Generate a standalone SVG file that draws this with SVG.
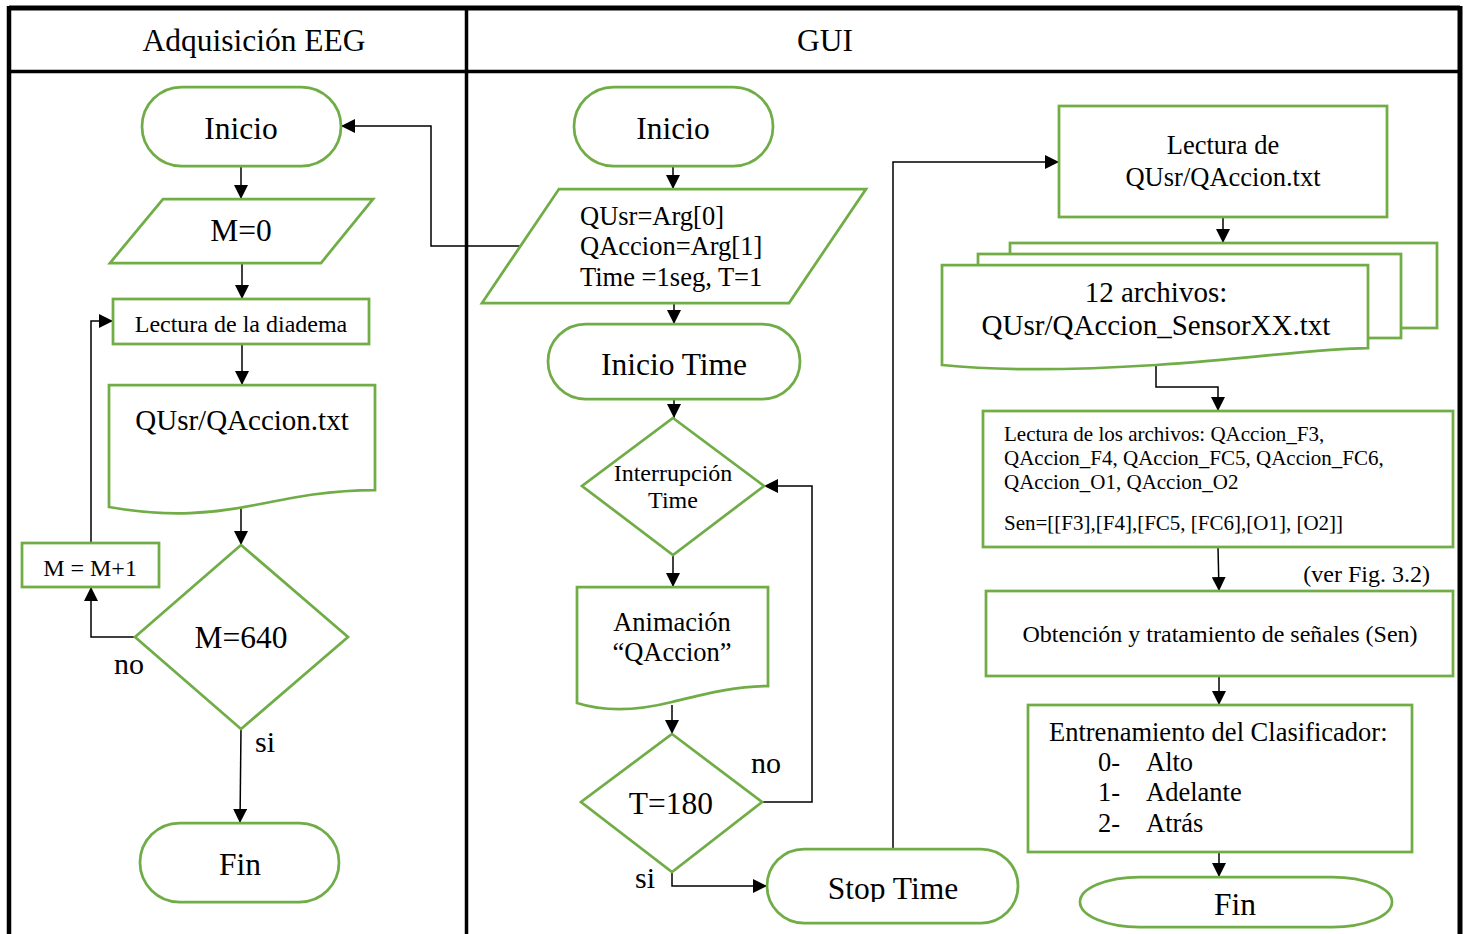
<svg xmlns="http://www.w3.org/2000/svg" width="1469" height="934" viewBox="0 0 1469 934">
  <defs>
    <style>
      .shape{fill:#fff;stroke:#70AD47;stroke-width:2.75}
      .conn{fill:none;stroke:#000;stroke-width:1.5}
      .frame{fill:none;stroke:#000}
      text{font-family:"Liberation Serif","Times New Roman",serif;fill:#000}
      .xl{font-size:31.5px}
      .lg{font-size:29px}
      .md{font-size:26.5px}
      .sm{font-size:24px}
      .xs{font-size:21px}
      .lbl{font-size:30px}
    </style>
    <marker id="arr" viewBox="0 0 14 14" refX="14" refY="7" markerWidth="14" markerHeight="14" markerUnits="userSpaceOnUse" orient="auto">
      <path d="M0,0 L14,7 L0,14 Z" fill="#000"/>
    </marker>
    <clipPath id="stopClip">
      <rect x="767" y="849" width="251" height="53"/>
    </clipPath>
  </defs>

  <rect width="1469" height="934" fill="#fff"/>

  <!-- swimlane frame -->
  <g id="frame">
    <line class="frame" x1="9" y1="8" x2="1460" y2="8" stroke-width="5"/>
    <line class="frame" x1="9" y1="6" x2="9" y2="934" stroke-width="4.5"/>
    <line class="frame" x1="1460" y1="6" x2="1460" y2="934" stroke-width="5"/>
    <line class="frame" x1="9" y1="71.5" x2="1460" y2="71.5" stroke-width="3.5"/>
    <line class="frame" x1="466.5" y1="8" x2="466.5" y2="934" stroke-width="3.5"/>
    <text class="xl" x="254" y="51" text-anchor="middle">Adquisición EEG</text>
    <text class="xl" x="825" y="51" text-anchor="middle">GUI</text>
  </g>

  <!-- connectors -->
  <g id="connectors" class="conn">
    <!-- Adquisición EEG lane -->
    <path d="M241,166 V199" marker-end="url(#arr)"/>
    <path d="M242,263 V299" marker-end="url(#arr)"/>
    <path d="M242,344 V385" marker-end="url(#arr)"/>
    <path d="M241,507 V545" marker-end="url(#arr)"/>
    <path d="M241,729 L240,823" marker-end="url(#arr)"/>
    <path d="M135,637 H91 V587" marker-end="url(#arr)"/>
    <path d="M91,543 V321 H113" marker-end="url(#arr)"/>
    <path d="M520,246 H431 V126 H341" marker-end="url(#arr)"/>
    <!-- GUI lane -->
    <path d="M673,166 V189" marker-end="url(#arr)"/>
    <path d="M674,303 V324" marker-end="url(#arr)"/>
    <path d="M674,399 V418" marker-end="url(#arr)"/>
    <path d="M673,555 V587" marker-end="url(#arr)"/>
    <path d="M672,705 V734" marker-end="url(#arr)"/>
    <path d="M762,802 H812 V486 H764" marker-end="url(#arr)"/>
    <path d="M672,872 V886 H767" marker-end="url(#arr)"/>
    <path d="M893,849 V162 H1059" marker-end="url(#arr)"/>
    <path d="M1223,217 V243" marker-end="url(#arr)"/>
    <path d="M1156,366 V387 H1218 V411" marker-end="url(#arr)"/>
    <path d="M1218,547 L1219,591" marker-end="url(#arr)"/>
    <path d="M1219,676 V705" marker-end="url(#arr)"/>
    <path d="M1219,852 V877" marker-end="url(#arr)"/>
  </g>

  <!-- Adquisición EEG nodes -->
  <g id="eeg-inicio">
    <rect class="shape" x="142" y="87" width="199" height="79" rx="39.5"/>
    <text class="xl" x="241" y="139" text-anchor="middle">Inicio</text>
  </g>
  <g id="eeg-m0">
    <polygon class="shape" points="163,199 373,199 321,263 110,263"/>
    <text class="xl" x="241" y="241" text-anchor="middle">M=0</text>
  </g>
  <g id="eeg-lectura">
    <rect class="shape" x="113" y="299" width="256" height="45"/>
    <text class="sm" x="241" y="332" text-anchor="middle">Lectura de la diadema</text>
  </g>
  <g id="eeg-archivo">
    <path class="shape" d="M109,385 H375 V490 C330,490 295,497 255,505 C215,513 170,518 109,507 Z"/>
    <text class="lg" x="242" y="430" text-anchor="middle">QUsr/QAccion.txt</text>
  </g>
  <g id="eeg-m640">
    <polygon class="shape" points="241,545 348,637 241,729 135,637"/>
    <text class="xl" x="241" y="648" text-anchor="middle">M=640</text>
    <text class="lbl" x="114" y="674">no</text>
    <text class="lbl" x="255" y="752">si</text>
  </g>
  <g id="eeg-incremento">
    <rect class="shape" x="22" y="543" width="137" height="44"/>
    <text class="sm" x="90" y="576" text-anchor="middle">M = M+1</text>
  </g>
  <g id="eeg-fin">
    <rect class="shape" x="140" y="823" width="199" height="79" rx="39.5"/>
    <text class="xl" x="240" y="875" text-anchor="middle">Fin</text>
  </g>

  <!-- GUI nodes -->
  <g id="gui-inicio">
    <rect class="shape" x="574" y="87" width="199" height="79" rx="39.5"/>
    <text class="xl" x="673" y="139" text-anchor="middle">Inicio</text>
  </g>
  <g id="gui-args">
    <polygon class="shape" points="559,189 866,189 789,303 482,303"/>
    <text class="md" x="580" y="225">QUsr=Arg[0]</text>
    <text class="md" x="580" y="255">QAccion=Arg[1]</text>
    <text class="md" x="580" y="286">Time =1seg, T=1</text>
  </g>
  <g id="gui-inicio-time">
    <rect class="shape" x="548" y="324" width="252" height="75" rx="37.5"/>
    <text class="xl" x="674" y="375" text-anchor="middle">Inicio Time</text>
  </g>
  <g id="gui-interrupcion">
    <polygon class="shape" points="673,418 764,486 673,555 582,486"/>
    <text class="sm" x="673" y="481" text-anchor="middle">Interrupción</text>
    <text class="sm" x="673" y="508" text-anchor="middle">Time</text>
  </g>
  <g id="gui-animacion">
    <path class="shape" d="M577,587 H768 V686 C735,686 705,694 672,702 C640,710 605,712 577,703 Z"/>
    <text class="md" x="672" y="631" text-anchor="middle">Animación</text>
    <text class="md" x="672" y="661" text-anchor="middle">“QAccion”</text>
  </g>
  <g id="gui-t180">
    <polygon class="shape" points="672,734 762,802 672,872 581,802"/>
    <text class="xl" x="671" y="814" text-anchor="middle">T=180</text>
    <text class="lbl" x="751" y="773">no</text>
    <text class="lbl" x="635" y="888">si</text>
  </g>
  <g id="gui-stop">
    <rect class="shape" x="767" y="849" width="251" height="74" rx="37"/>
    <text class="xl" x="893" y="899" text-anchor="middle" clip-path="url(#stopClip)">Stop Time</text>
  </g>
  <g id="gui-lectura-txt">
    <rect class="shape" x="1059" y="106" width="328" height="111"/>
    <text class="md" x="1223" y="154" text-anchor="middle">Lectura de</text>
    <text class="md" x="1223" y="186" text-anchor="middle">QUsr/QAccion.txt</text>
  </g>
  <g id="gui-sensores">
    <rect class="shape" x="1010" y="243" width="427" height="85"/>
    <rect class="shape" x="978" y="254" width="423" height="84"/>
    <path class="shape" d="M942,265 H1368 V348 C1320,348 1250,359 1156,365 C1060,371 990,370 942,365 Z"/>
    <text class="lg" x="1156" y="302" text-anchor="middle">12 archivos:</text>
    <text class="lg" x="1156" y="335" text-anchor="middle">QUsr/QAccion_SensorXX.txt</text>
  </g>
  <g id="gui-lectura-archivos">
    <rect class="shape" x="983" y="411" width="470" height="136"/>
    <text class="xs" x="1004" y="441">Lectura de los archivos: QAccion_F3,</text>
    <text class="xs" x="1004" y="465">QAccion_F4, QAccion_FC5, QAccion_FC6,</text>
    <text class="xs" x="1004" y="489">QAccion_O1, QAccion_O2</text>
    <text class="xs" x="1004" y="530">Sen=[[F3],[F4],[FC5, [FC6],[O1], [O2]]</text>
  </g>
  <g id="gui-obtencion">
    <text class="sm" x="1430" y="582" text-anchor="end">(ver Fig. 3.2)</text>
    <rect class="shape" x="986" y="591" width="467" height="85"/>
    <text class="sm" x="1220" y="642" text-anchor="middle">Obtención y tratamiento de señales (Sen)</text>
  </g>
  <g id="gui-entrenamiento">
    <rect class="shape" x="1028" y="705" width="384" height="147"/>
    <text class="md" x="1049" y="741">Entrenamiento del Clasificador:</text>
    <text class="md" x="1098" y="771">0-</text>
    <text class="md" x="1146" y="771">Alto</text>
    <text class="md" x="1098" y="801">1-</text>
    <text class="md" x="1146" y="801">Adelante</text>
    <text class="md" x="1098" y="832">2-</text>
    <text class="md" x="1146" y="832">Atrás</text>
  </g>
  <g id="gui-fin">
    <rect class="shape" x="1080" y="877" width="312" height="50" rx="60" ry="25"/>
    <text class="xl" x="1235" y="915" text-anchor="middle">Fin</text>
  </g>
</svg>
